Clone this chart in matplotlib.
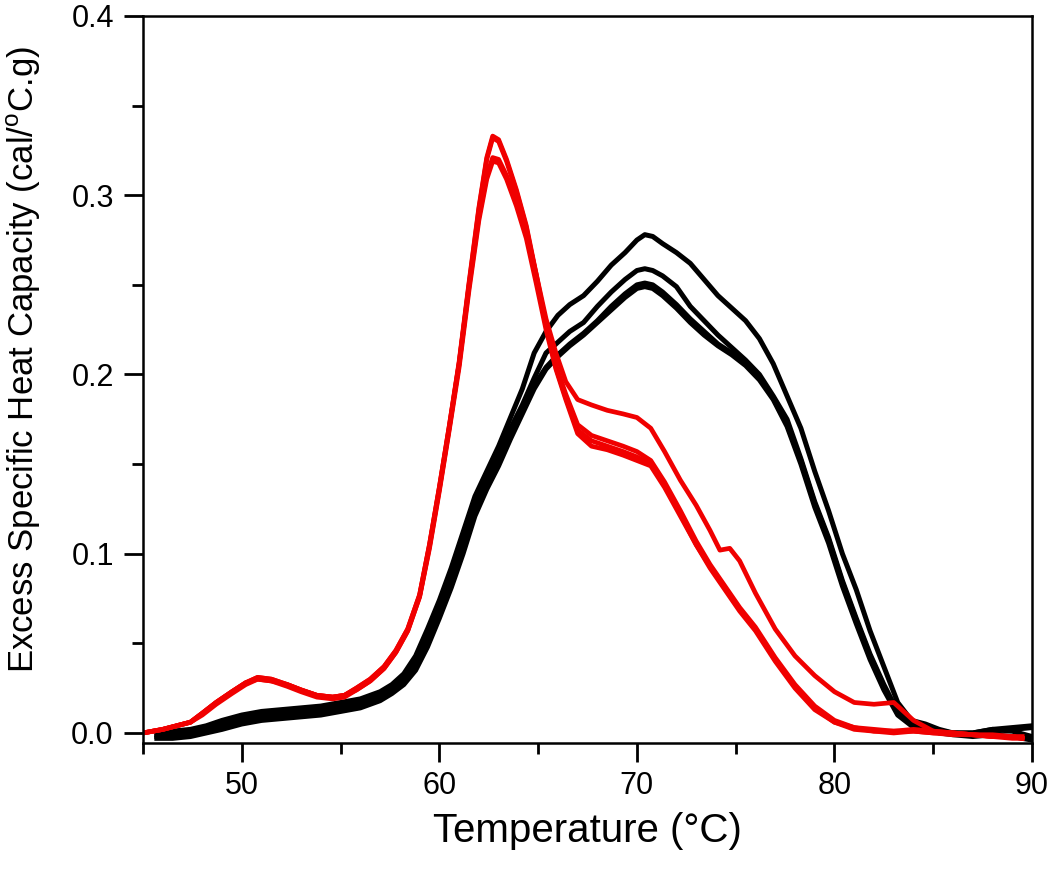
import numpy as np
import matplotlib
matplotlib.use("Agg")
import matplotlib.pyplot as plt
from matplotlib.ticker import MultipleLocator, FormatStrFormatter

plt.rcParams['font.family'] = ['Liberation Sans', 'DejaVu Sans']
plt.rcParams['mathtext.fontset'] = 'custom'
plt.rcParams['mathtext.rm'] = 'Liberation Sans'

# ---------- data ----------
# black scans
temp_black = [45.7, 46.5, 47.4, 48.2, 49.0, 50.0, 51.0, 52.0, 53.0, 54.0, 55.0, 56.0, 57.0,
              57.6, 58.2, 58.8, 59.4, 60.0, 60.6, 61.2, 61.8, 62.4, 63.0, 63.6, 64.2,
              64.8, 65.4, 66.0, 66.6, 67.3, 68.0, 68.7, 69.4, 70.0, 70.4, 70.8, 71.3,
              72.0, 72.7, 73.4, 74.1, 74.8, 75.5, 76.2, 76.9, 77.6, 78.3, 79.0, 79.7,
              80.4, 81.1, 81.8, 82.5, 83.2, 83.9, 84.6, 85.3, 86.0, 87.0, 88.0, 89.0, 90.0]

cp_black_1 = [0.001, 0.001, 0.002, 0.004, 0.007, 0.010, 0.012, 0.013, 0.014, 0.015, 0.017, 0.019, 0.023,
              0.027, 0.033, 0.043, 0.058, 0.074, 0.092, 0.112, 0.132, 0.146, 0.160, 0.176, 0.192,
              0.212, 0.224, 0.233, 0.239, 0.244, 0.252, 0.261, 0.268, 0.275, 0.278, 0.277, 0.273,
              0.268, 0.262, 0.253, 0.244, 0.237, 0.230, 0.220, 0.206, 0.188, 0.170, 0.146, 0.124,
              0.100, 0.080, 0.057, 0.037, 0.017, 0.007, 0.005, 0.002, 0.000, 0.000, 0.002, 0.001, -0.002]

cp_black_2 = [-0.001, -0.001, 0.000, 0.002, 0.005, 0.008, 0.010, 0.011, 0.012, 0.013, 0.015, 0.017, 0.021,
              0.025, 0.031, 0.040, 0.054, 0.070, 0.087, 0.107, 0.127, 0.141, 0.155, 0.170, 0.183,
              0.198, 0.212, 0.218, 0.224, 0.229, 0.238, 0.246, 0.253, 0.258, 0.259, 0.258, 0.255,
              0.249, 0.238, 0.230, 0.222, 0.215, 0.208, 0.200, 0.188, 0.175, 0.153, 0.129, 0.109,
              0.085, 0.064, 0.044, 0.027, 0.012, 0.005, 0.004, 0.001, 0.000, 0.000, 0.002, 0.003, 0.004]

cp_black_3 = [-0.002, -0.002, -0.001, 0.001, 0.004, 0.007, 0.009, 0.010, 0.011, 0.012, 0.014, 0.016, 0.020,
              0.024, 0.030, 0.038, 0.052, 0.068, 0.084, 0.104, 0.125, 0.139, 0.152, 0.166, 0.180,
              0.194, 0.204, 0.211, 0.217, 0.223, 0.230, 0.238, 0.245, 0.250, 0.251, 0.250, 0.246,
              0.239, 0.231, 0.224, 0.217, 0.212, 0.206, 0.198, 0.187, 0.172, 0.152, 0.128, 0.108,
              0.084, 0.063, 0.043, 0.026, 0.011, 0.005, 0.004, 0.001, 0.000, -0.001, 0.001, 0.002, 0.003]

cp_black_4 = [-0.003, -0.003, -0.002, 0.000, 0.002, 0.005, 0.007, 0.008, 0.009, 0.010, 0.012, 0.014, 0.018,
              0.022, 0.027, 0.035, 0.048, 0.064, 0.081, 0.100, 0.121, 0.136, 0.149, 0.164, 0.178,
              0.192, 0.203, 0.210, 0.216, 0.222, 0.229, 0.236, 0.243, 0.248, 0.249, 0.248, 0.244,
              0.237, 0.229, 0.222, 0.216, 0.211, 0.205, 0.197, 0.186, 0.171, 0.150, 0.126, 0.106,
              0.082, 0.061, 0.041, 0.024, 0.010, 0.004, 0.003, 0.000, -0.001, -0.002, -0.001, -0.002, -0.004]

# red scans
temp_red = [45.0, 46.0, 46.7, 47.4, 48.0, 48.7, 49.5, 50.2, 50.8, 51.5, 52.3, 53.0, 53.8, 54.6,
            55.2, 55.8, 56.5, 57.2, 57.8, 58.4, 59.0, 59.5, 60.0, 60.5, 61.0, 61.5, 62.0,
            62.4, 62.7, 63.0, 63.4, 63.9, 64.4, 64.9, 65.4, 65.9, 66.4, 67.0, 67.7, 68.5,
            69.3, 70.0, 70.7, 71.4, 72.2, 73.0, 73.7, 74.2, 74.7, 75.2, 76.0, 77.0, 78.0,
            79.0, 80.0, 81.0, 82.0, 83.0, 84.0, 85.0, 86.0, 87.0, 88.0, 89.0, 89.5]

cp_red_1 = [0.000, 0.002, 0.004, 0.006, 0.011, 0.017, 0.023, 0.028, 0.031, 0.030, 0.027, 0.024, 0.021, 0.020,
            0.021, 0.025, 0.030, 0.037, 0.046, 0.058, 0.077, 0.105, 0.137, 0.171, 0.207, 0.251, 0.293,
            0.321, 0.333, 0.331, 0.320, 0.303, 0.283, 0.256, 0.228, 0.205, 0.189, 0.172, 0.166, 0.163,
            0.160, 0.157, 0.152, 0.140, 0.124, 0.107, 0.094, 0.086, 0.078, 0.070, 0.059, 0.042, 0.027,
            0.015, 0.007, 0.003, 0.001, 0.001, 0.001, 0.000, 0.000, -0.001, -0.002, -0.002, -0.003]

cp_red_2 = [0.000, 0.002, 0.004, 0.006, 0.011, 0.017, 0.023, 0.028, 0.030, 0.029, 0.027, 0.024, 0.021, 0.020,
            0.021, 0.024, 0.029, 0.036, 0.045, 0.057, 0.076, 0.104, 0.136, 0.170, 0.206, 0.250, 0.292,
            0.320, 0.332, 0.330, 0.319, 0.302, 0.282, 0.255, 0.227, 0.204, 0.187, 0.169, 0.163, 0.160,
            0.157, 0.154, 0.150, 0.138, 0.122, 0.105, 0.092, 0.084, 0.076, 0.068, 0.057, 0.040, 0.025,
            0.013, 0.006, 0.002, 0.001, 0.000, 0.001, 0.000, -0.001, -0.001, -0.002, -0.003, -0.003]

cp_red_3 = [0.000, 0.002, 0.004, 0.006, 0.010, 0.016, 0.022, 0.027, 0.030, 0.029, 0.026, 0.023, 0.020, 0.019,
            0.020, 0.024, 0.029, 0.036, 0.045, 0.057, 0.076, 0.103, 0.135, 0.169, 0.204, 0.247, 0.286,
            0.309, 0.319, 0.318, 0.309, 0.294, 0.276, 0.251, 0.225, 0.203, 0.186, 0.167, 0.160, 0.158,
            0.155, 0.152, 0.149, 0.137, 0.121, 0.105, 0.093, 0.085, 0.077, 0.069, 0.058, 0.041, 0.026,
            0.014, 0.006, 0.003, 0.002, 0.001, 0.002, 0.001, 0.000, -0.001, -0.001, -0.002, -0.002]

cp_red_4 = [0.000, 0.002, 0.004, 0.006, 0.011, 0.017, 0.023, 0.028, 0.031, 0.030, 0.027, 0.024, 0.021, 0.020,
            0.021, 0.025, 0.030, 0.037, 0.046, 0.058, 0.077, 0.105, 0.137, 0.171, 0.206, 0.249, 0.288,
            0.311, 0.321, 0.320, 0.311, 0.297, 0.280, 0.256, 0.231, 0.212, 0.196, 0.186, 0.183, 0.180,
            0.178, 0.176, 0.170, 0.157, 0.141, 0.127, 0.113, 0.102, 0.103, 0.096, 0.078, 0.058, 0.043,
            0.032, 0.023, 0.017, 0.016, 0.017, 0.007, 0.001, 0.000, -0.001, -0.002, -0.002, -0.003]

black_scans = [cp_black_1, cp_black_2, cp_black_3, cp_black_4]
red_scans = [cp_red_1, cp_red_2, cp_red_3, cp_red_4]

# ---------- plot ----------
fig = plt.figure(figsize=(10.5, 8.69), dpi=100)
ax = fig.add_axes([0.1362, 0.1450, 0.8467, 0.8366])

for cp in black_scans:
    ax.plot(temp_black, cp, color='black', linewidth=3.6, solid_joinstyle='round')
for cp in red_scans:
    ax.plot(temp_red, cp, color='#f00000', linewidth=3.4, solid_joinstyle='round')

ax.set_xlim(45, 90)
ax.set_ylim(-0.0056, 0.4)

ax.xaxis.set_major_locator(MultipleLocator(10))
ax.xaxis.set_minor_locator(MultipleLocator(5))
ax.yaxis.set_major_locator(MultipleLocator(0.1))
ax.yaxis.set_minor_locator(MultipleLocator(0.05))
ax.yaxis.set_major_formatter(FormatStrFormatter('%.1f'))

ax.tick_params(which='both', direction='out', top=False, right=False, width=2, labelsize=22)
ax.tick_params(which='major', length=14)
ax.tick_params(which='minor', length=8)
ax.tick_params(axis='x', pad=6)
ax.tick_params(axis='y', pad=7)

for sp in ax.spines.values():
    sp.set_linewidth(1.8)

ax.set_xlabel('Temperature (°C)', fontsize=29, labelpad=8)
ax.set_ylabel(r'Excess Specific Heat Capacity (cal/$^{\mathrm{o}}$C.g)', fontsize=25)
ax.yaxis.set_label_coords(-0.113, 0.527)

fig.savefig('out.png', dpi=100)
